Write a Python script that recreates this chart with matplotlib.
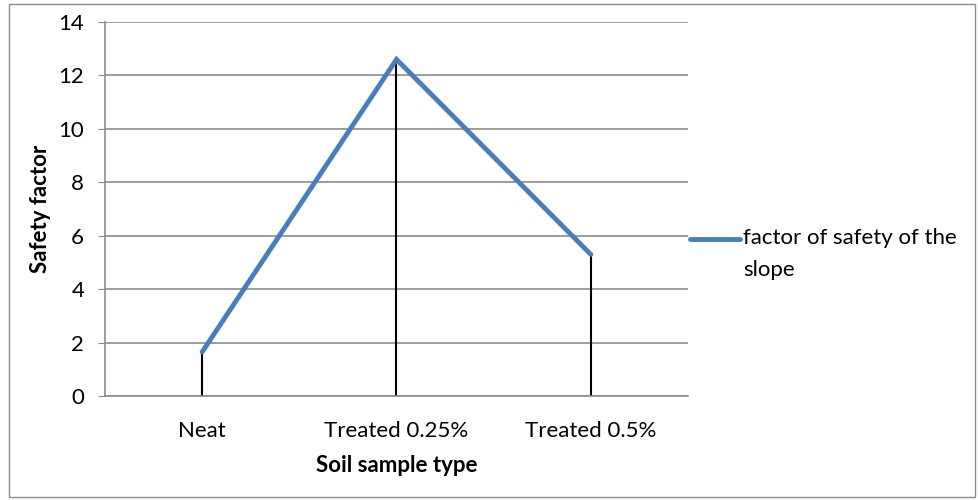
import matplotlib.pyplot as plt
from matplotlib.patches import Rectangle

# data
categories = ['Neat', 'Treated 0.25%', 'Treated 0.5%']
safety_factor = [1.65, 12.6, 5.3]
series_label = 'factor of safety of the\nslope'

plt.rcParams['font.family'] = ['Lato', 'DejaVu Sans']
fs = 16

fig = plt.figure(figsize=(9.79, 5.0), dpi=100)
ax = fig.add_axes([105 / 979, 1 - 396 / 500, (688 - 105) / 979, (396 - 22) / 500])

x = list(range(len(categories)))
ax.plot(x, safety_factor, color='#4a7ebb', linewidth=3.5, solid_capstyle='round',
        solid_joinstyle='miter', zorder=3)
# drop lines
ax.vlines(x, 0, safety_factor, color='black', linewidth=1.5, zorder=2)

ax.set_xlim(-0.5, 2.5)
ax.set_ylim(0, 14)
ax.set_yticks(range(0, 15, 2))
ax.set_xticks(x)
ax.set_xticklabels(categories)
ax.grid(axis='y', color='#8c8c8c', linewidth=1.2)
ax.set_axisbelow(True)
for s in ['top', 'right']:
    ax.spines[s].set_visible(False)
for s in ['left', 'bottom']:
    ax.spines[s].set_color('#8c8c8c')
    ax.spines[s].set_linewidth(1.2)
ax.tick_params(axis='y', length=5, color='#8c8c8c', labelsize=fs, pad=10)
ax.tick_params(axis='x', length=0, labelsize=fs, pad=18)

ax.set_xlabel('Soil sample type', fontsize=fs, fontweight='bold', labelpad=10)
ax.set_ylabel('Safety factor', fontsize=fs, fontweight='bold', labelpad=5)

# legend drawn at the right
fig.lines.append(plt.Line2D([690 / 979, 740 / 979], [1 - 239 / 500] * 2,
                            transform=fig.transFigure, color='#4a7ebb', linewidth=3.5,
                            solid_capstyle='round'))
fig.text(743 / 979, 1 - 228 / 500, series_label, fontsize=fs, va='top',
         ha='left', linespacing=1.75)

# outer chart border
fig.patches.append(Rectangle((9 / 979, 3 / 500), 966 / 979, 493 / 500,
                             transform=fig.transFigure, fill=False,
                             edgecolor='#8c8c8c', linewidth=1))

fig.savefig('out.png', dpi=100)
